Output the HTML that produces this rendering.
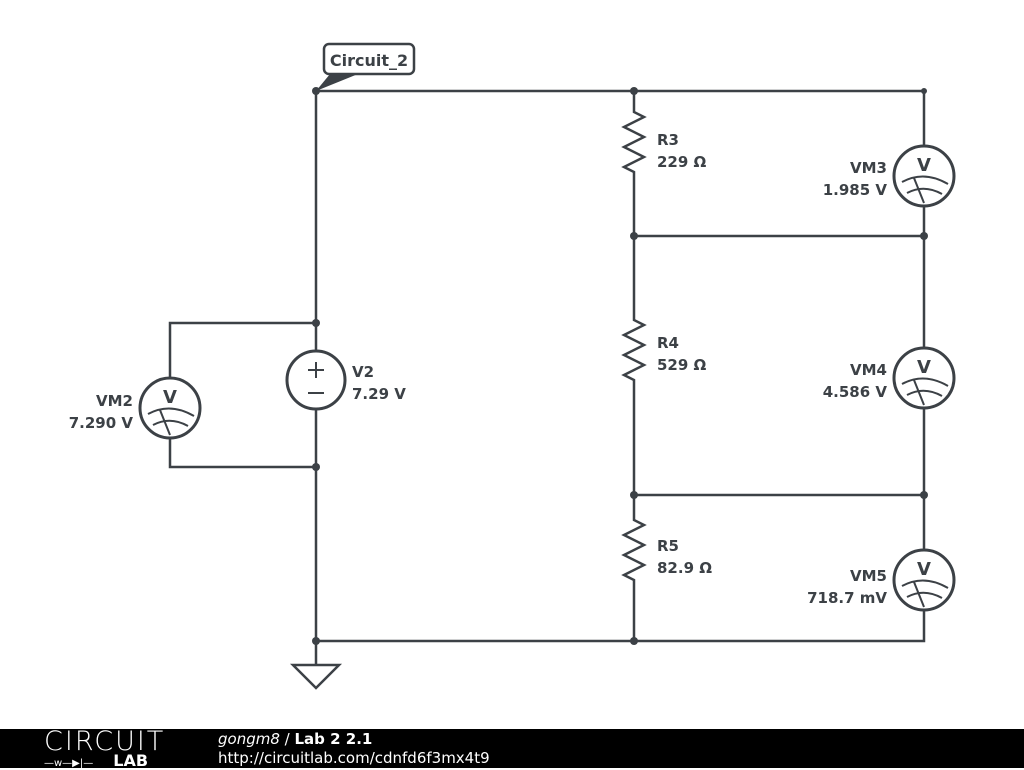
<!DOCTYPE html>
<html><head><style>
body{margin:0;width:1024px;height:768px;background:#fff;overflow:hidden;position:relative;font-family:"DejaVu Sans",sans-serif}
svg{position:absolute;left:0;top:0}
.foot{position:absolute;left:0;top:729px;width:1024px;height:39px;background:#000;color:#fff}
</style></head><body>
<svg width="1024" height="768" viewBox="0 0 1024 768">
<defs>
<g id="vm">
<circle cx="0" cy="0" r="30" fill="#fff" stroke="#3c4146" stroke-width="3"/>
<text x="0" y="-5" font-size="18" font-weight="bold" text-anchor="middle" fill="#3c4146" font-family="DejaVu Sans">V</text>
<path d="M-22,6 Q0,-6 24,8" fill="none" stroke="#3c4146" stroke-width="2"/>
<path d="M-17,17 Q0,8 18,18" fill="none" stroke="#3c4146" stroke-width="2"/>
<line x1="-10" y1="2" x2="0" y2="27" stroke="#3c4146" stroke-width="2"/>
</g>
</defs>
<g stroke="#3c4146" stroke-width="2.5" fill="none">
<path d="M316,91 H924 V146 M924,206 V348 M924,408 V550 M924,610 V641 H316 V91"/>
<path d="M634,91 V112 l10,5 -20,10 20,10 -20,10 20,10 -20,10 10,5 V320 l10,5 -20,10 20,10 -20,10 20,10 -20,10 10,5 V520 l10,5 -20,10 20,10 -20,10 20,10 -20,10 10,5 V641"/>
<path d="M634,236 H924 M634,495 H924"/>
<path d="M316,323 H170 V378 M170,438 V467 H316"/>
<path d="M316,641 V665 M293,665 H339 L316,688 Z"/>
</g>
<circle cx="316" cy="380" r="29" fill="#fff" stroke="#3c4146" stroke-width="3"/>
<path d="M316,362 V378 M308,370 H324 M308,393 H324" stroke="#3c4146" stroke-width="2"/>
<use href="#vm" x="924" y="176"/>
<use href="#vm" x="924" y="378"/>
<use href="#vm" x="924" y="580"/>
<use href="#vm" x="170" y="408"/>
<g fill="#3c4146">
<circle cx="316" cy="91" r="4"/><circle cx="634" cy="91" r="4"/><circle cx="924" cy="91" r="3"/>
<circle cx="634" cy="236" r="4"/><circle cx="924" cy="236" r="4"/>
<circle cx="634" cy="495" r="4"/><circle cx="924" cy="495" r="4"/>
<circle cx="634" cy="641" r="4"/><circle cx="316" cy="641" r="4"/>
<circle cx="316" cy="323" r="4"/><circle cx="316" cy="467" r="4"/>
<path d="M316,91 L330,74 H358 Z"/>
</g>
<rect x="324" y="44" width="90" height="30" rx="5" fill="#fff" stroke="#3c4146" stroke-width="2.5"/>
<g font-family="DejaVu Sans" font-weight="bold" font-size="15" fill="#3c4146">
<text x="369" y="66" text-anchor="middle" font-size="16">Circuit_2</text>
<text x="657" y="145">R3</text><text x="657" y="167">229 Ω</text>
<text x="657" y="348">R4</text><text x="657" y="370">529 Ω</text>
<text x="657" y="551">R5</text><text x="657" y="573">82.9 Ω</text>
<text x="352" y="377">V2</text><text x="352" y="399">7.29 V</text>
<g text-anchor="end">
<text x="887" y="173">VM3</text><text x="887" y="195">1.985 V</text>
<text x="887" y="375">VM4</text><text x="887" y="397">4.586 V</text>
<text x="887" y="581">VM5</text><text x="887" y="603">718.7 mV</text>
<text x="133" y="406">VM2</text><text x="133" y="428">7.290 V</text>
</g></g>
</svg>
<div class="foot">
<div style="position:absolute;left:44px;top:-3px;font-size:27px;letter-spacing:2px;font-family:'DejaVu Sans';font-weight:200">CIRCUIT</div>
<div style="position:absolute;left:44px;top:22px;font-size:10px;white-space:nowrap">—w—▶|—<b style="font-size:16px;margin-left:20px">LAB</b></div>
<div style="position:absolute;left:218px;top:1px;font-size:15px"><i>gongm8</i> / <b>Lab 2 2.1</b></div>
<div style="position:absolute;left:218px;top:20px;font-size:15px">http://circuitlab.com/cdnfd6f3mx4t9</div>
</div>
</body></html>
